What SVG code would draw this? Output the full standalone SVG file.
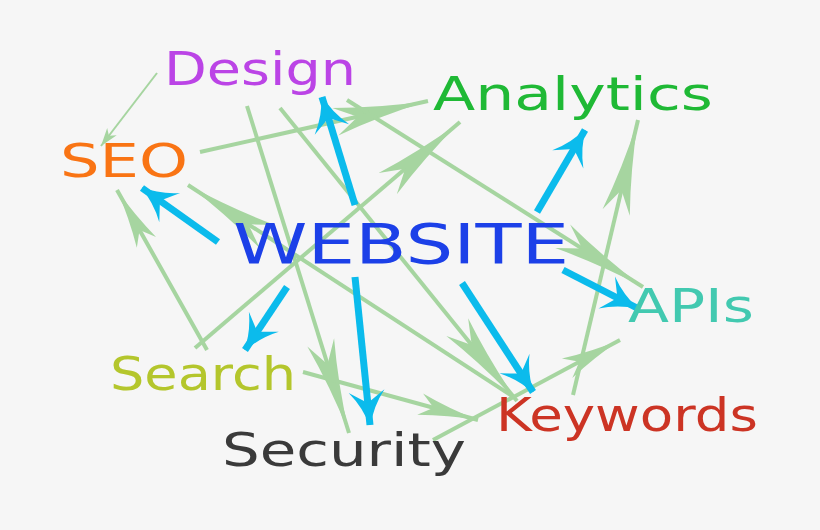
<svg xmlns="http://www.w3.org/2000/svg" width="820" height="530" viewBox="0 0 820 530">
<style>
.g{stroke:#a6d5a0;stroke-width:4;fill:none}
.gt{stroke:#a6d5a0;stroke-width:2;fill:none}
.b{stroke:#0bbbec;stroke-width:7;fill:none}
text{font-family:"DejaVu Sans","Liberation Sans",sans-serif;font-size:46px}
</style>
<defs>
<marker id="gS" viewBox="-30 -10 30 20" markerWidth="30" markerHeight="20" refX="0" refY="0" orient="auto" markerUnits="userSpaceOnUse">
<path d="M0,0 L-18,-6 L-13,0 L-18,6 Z" fill="#a6d5a0"/>
</marker>
<marker id="gM" viewBox="-70 -15 70 30" markerWidth="70" markerHeight="30" refX="0" refY="0" orient="auto" markerUnits="userSpaceOnUse">
<path d="M0,0 Q-30,-3 -60,-11 L-46,0 L-60,11 Q-30,3 0,0 Z" fill="#a6d5a0"/>
</marker>
<marker id="gL" viewBox="-110 -18 110 36" markerWidth="110" markerHeight="36" refX="0" refY="0" orient="auto" markerUnits="userSpaceOnUse">
<path d="M0,0 Q-50,-4 -95,-14 L-72,0 L-95,14 Q-50,4 0,0 Z" fill="#a6d5a0"/>
</marker>
<marker id="bA" viewBox="-40 -22 40 44" markerWidth="40" markerHeight="44" refX="0" refY="0" orient="auto" markerUnits="userSpaceOnUse">
<path d="M2,0 Q-18,5 -34,18 L-22,0 L-34,-18 Q-18,-5 2,0 Z" fill="#0bbbec"/>
</marker>
</defs>
<rect width="820" height="530" fill="#f6f6f6"/>
<g id="connectors">
<line class="gt" x1="157" y1="73" x2="101" y2="146" marker-end="url(#gS)"/>
<line class="g" x1="200" y1="152" x2="428" y2="101" marker-end="url(#gL)"/>
<line class="g" x1="207" y1="350" x2="117" y2="190" marker-end="url(#gM)"/>
<line class="g" x1="195" y1="348" x2="460" y2="122" marker-end="url(#gL)"/>
<line class="g" x1="247" y1="106" x2="349" y2="433" marker-end="url(#gL)"/>
<line class="g" x1="512" y1="396" x2="188" y2="185" marker-end="url(#gL)"/>
<line class="g" x1="280" y1="108" x2="517" y2="401" marker-end="url(#gL)"/>
<line class="g" x1="347" y1="100" x2="643" y2="287" marker-end="url(#gL)"/>
<line class="g" x1="303" y1="372" x2="478" y2="420" marker-end="url(#gM)"/>
<line class="g" x1="433" y1="440" x2="620" y2="340" marker-end="url(#gM)"/>
<line class="g" x1="573" y1="395" x2="638" y2="120" marker-end="url(#gL)"/>
<line class="b" x1="355" y1="205" x2="322" y2="97" marker-end="url(#bA)"/>
<line class="b" x1="218" y1="242" x2="142" y2="188" marker-end="url(#bA)"/>
<line class="b" x1="537" y1="212" x2="585" y2="130" marker-end="url(#bA)"/>
<line class="b" x1="563" y1="270" x2="637" y2="308" marker-end="url(#bA)"/>
<line class="b" x1="462" y1="283" x2="533" y2="392" marker-end="url(#bA)"/>
<line class="b" x1="355" y1="277" x2="370" y2="425" marker-end="url(#bA)"/>
<line class="b" x1="287" y1="287" x2="245" y2="350" marker-end="url(#bA)"/>
</g>
<g id="design"><text x="164" y="85" fill="#bb44e6" textLength="192" lengthAdjust="spacingAndGlyphs">Design</text></g>
<g id="analytics"><text x="433" y="110" fill="#1fb935" textLength="280" lengthAdjust="spacingAndGlyphs">Analytics</text></g>
<g id="seo"><text x="60" y="177" fill="#f97414" textLength="128" lengthAdjust="spacingAndGlyphs">SEO</text></g>
<g id="website"><text x="233" y="263" fill="#1c40e8" textLength="336" lengthAdjust="spacingAndGlyphs" style="font-size:56px">WEBSITE</text></g>
<g id="apis"><text x="628" y="322" fill="#42c9b0" textLength="126" lengthAdjust="spacingAndGlyphs">APIs</text></g>
<g id="search"><text x="110" y="390" fill="#b4c62c" textLength="186" lengthAdjust="spacingAndGlyphs">Search</text></g>
<g id="keywords"><text x="496" y="431" fill="#cc3424" textLength="262" lengthAdjust="spacingAndGlyphs">Keywords</text></g>
<g id="security"><text x="222" y="466" fill="#3a3a3a" textLength="244" lengthAdjust="spacingAndGlyphs">Security</text></g>
</svg>
